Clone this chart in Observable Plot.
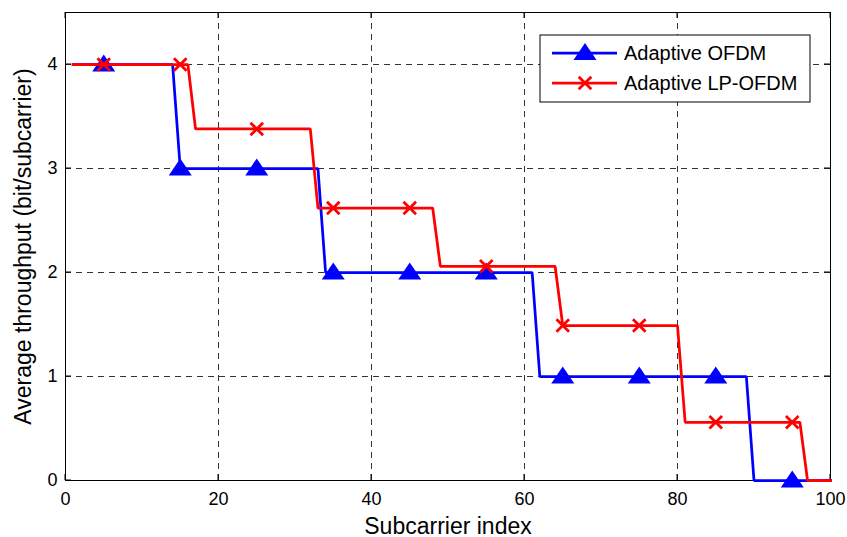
<!DOCTYPE html>
<html>
<head>
<meta charset="utf-8">
<script src="https://cdn.jsdelivr.net/npm/d3@7"></script>
<script src="https://cdn.jsdelivr.net/npm/@observablehq/plot@0.6"></script>
<style>
  html, body { margin: 0; padding: 0; background: #fff; }
  #chart { width: 847px; height: 537px; }
</style>
</head>
<body>
<div id="chart"></div>
<script>
// ---- data ----
const seriesNames = ["Adaptive OFDM", "Adaptive LP-OFDM"];
// polyline vertices (subcarrier index, throughput)
const blueX = [1, 14, 15, 33, 34, 61, 62, 89, 90, 100];
const blueY = [4, 4, 3, 3, 2, 2, 1, 1, 0, 0];
const redX = [1, 16, 17, 32, 33, 48, 49, 64, 65, 80, 81, 96, 97, 100];
const redY = [4, 4, 3.38, 3.38, 2.62, 2.62, 2.06, 2.06, 1.49, 1.49, 0.56, 0.56, 0, 0];
// marker positions
const markerX = [5, 15, 25, 35, 45, 55, 65, 75, 85, 95];
const blueMarkY = [4, 3, 3, 2, 2, 2, 1, 1, 1, 0];
const redMarkY = [4, 4, 3.38, 2.62, 2.62, 2.06, 1.49, 1.49, 0.56, 0.56];
// axes
const xTicks = [0, 20, 40, 60, 80, 100];
const yTicks = [0, 1, 2, 3, 4];
const xGrid = [20, 40, 60, 80];
const yGrid = [1, 2, 3, 4];
const xLabel = "Subcarrier index";
const yLabel = "Average throughput (bit/subcarrier)";

// ---- build tables ----
const blueLine = blueX.map((x, i) => ({x, y: blueY[i]}));
const redLine = redX.map((x, i) => ({x, y: redY[i]}));
const blueMarks = markerX.map((x, i) => ({x, y: blueMarkY[i]}));
const redMarks = markerX.map((x, i) => ({x, y: redMarkY[i]}));

const BLUE = "#0000ff", RED = "#ff0000";
const FONT = "'Liberation Sans', Arial, Helvetica, sans-serif";
const XH = 6.3; // half-size of the x marker

const triangleSymbol = {
  draw(ctx) {
    ctx.moveTo(0, -10);
    ctx.lineTo(11.5, 7);
    ctx.lineTo(-11.5, 7);
    ctx.closePath();
  }
};
const timesSymbol = {
  draw(ctx) {
    ctx.moveTo(-XH, -XH); ctx.lineTo(XH, XH);
    ctx.moveTo(XH, -XH); ctx.lineTo(-XH, XH);
  }
};

function inwardTicks(index, scales, values, dims) {
  const {x, y} = scales;
  const L = 6;
  const top = dims.marginTop, bottom = dims.height - dims.marginBottom;
  const left = dims.marginLeft, right = dims.width - dims.marginRight;
  const g = d3.create("svg:g").attr("stroke", "black").attr("stroke-width", 1);
  for (const t of xTicks) {
    const px = x(t);
    g.append("line").attr("x1", px).attr("x2", px).attr("y1", bottom).attr("y2", bottom - L);
    g.append("line").attr("x1", px).attr("x2", px).attr("y1", top).attr("y2", top + L);
  }
  for (const t of yTicks) {
    const py = y(t);
    g.append("line").attr("y1", py).attr("y2", py).attr("x1", left).attr("x2", left + L);
    g.append("line").attr("y1", py).attr("y2", py).attr("x1", right).attr("x2", right - L);
  }
  return g.node();
}

function legend() {
  const g = d3.create("svg:g");
  const bx = 540, by = 35, bw = 270, bh = 67;
  g.append("rect").attr("x", bx).attr("y", by).attr("width", bw).attr("height", bh)
    .attr("fill", "white").attr("stroke", "black").attr("stroke-width", 1);
  const rows = [53, 83];
  const colors = [BLUE, RED];
  rows.forEach((ry, i) => {
    g.append("line").attr("x1", 552).attr("x2", 617).attr("y1", ry).attr("y2", ry)
      .attr("stroke", colors[i]).attr("stroke-width", 2.75);
    if (i === 0) {
      g.append("path").attr("d", "M585," + (ry - 10) + "L596.5," + (ry + 7) + "L573.5," + (ry + 7) + "Z")
        .attr("fill", BLUE);
    } else {
      g.append("path").attr("d", `M${585 - XH},${ry - XH}L${585 + XH},${ry + XH}M${585 + XH},${ry - XH}L${585 - XH},${ry + XH}`)
        .attr("stroke", RED).attr("stroke-width", 2.75).attr("fill", "none");
    }
    g.append("text").attr("x", 624).attr("y", ry + 7).attr("font-size", 20)
      .attr("text-anchor", "start")
      .attr("font-family", FONT).attr("fill", "black").text(seriesNames[i]);
  });
  return g.node();
}

const chart = Plot.plot({
  width: 847,
  height: 537,
  marginLeft: 65,
  marginRight: 17,
  marginTop: 12,
  marginBottom: 57,
  style: {fontFamily: FONT, background: "white", color: "black"},
  x: {domain: [0, 100]},
  y: {domain: [0, 4.5]},
  marks: [
    Plot.gridX(xGrid, {stroke: "black", strokeOpacity: 1, strokeWidth: 0.8, strokeDasharray: "6,5"}),
    Plot.gridY(yGrid, {stroke: "black", strokeOpacity: 1, strokeWidth: 0.8, strokeDasharray: "6,5"}),
    Plot.frame({stroke: "black", strokeWidth: 1}),
    inwardTicks,
    Plot.axisX({ticks: xTicks, tickSize: 0, tickPadding: 12, fontSize: 18, label: null, tickFormat: d => String(d)}),
    Plot.axisY({ticks: yTicks, tickSize: 0, tickPadding: 8, fontSize: 18, label: null, tickFormat: d => String(d)}),
    Plot.text([xLabel], {text: d => d, frameAnchor: "bottom", textAnchor: "middle", lineAnchor: "bottom", dy: 53, fontSize: 23, fill: "black"}),
    Plot.text([yLabel], {text: d => d, frameAnchor: "left", textAnchor: "middle", rotate: -90, lineAnchor: "bottom", dx: -35, fontSize: 23, fill: "black"}),
    Plot.line(blueLine, {x: "x", y: "y", stroke: BLUE, strokeWidth: 2.75, strokeLinejoin: "miter", strokeLinecap: "square"}),
    Plot.dot(blueMarks, {x: "x", y: "y", symbol: triangleSymbol, r: 8, fill: BLUE, stroke: "none"}),
    Plot.line(redLine, {x: "x", y: "y", stroke: RED, strokeWidth: 2.75, strokeLinejoin: "miter", strokeLinecap: "square"}),
    Plot.dot(redMarks, {x: "x", y: "y", symbol: timesSymbol, r: 6, fill: "none", stroke: RED, strokeWidth: 2.75}),
    legend
  ]
});
document.getElementById("chart").appendChild(chart);
</script>
</body>
</html>
